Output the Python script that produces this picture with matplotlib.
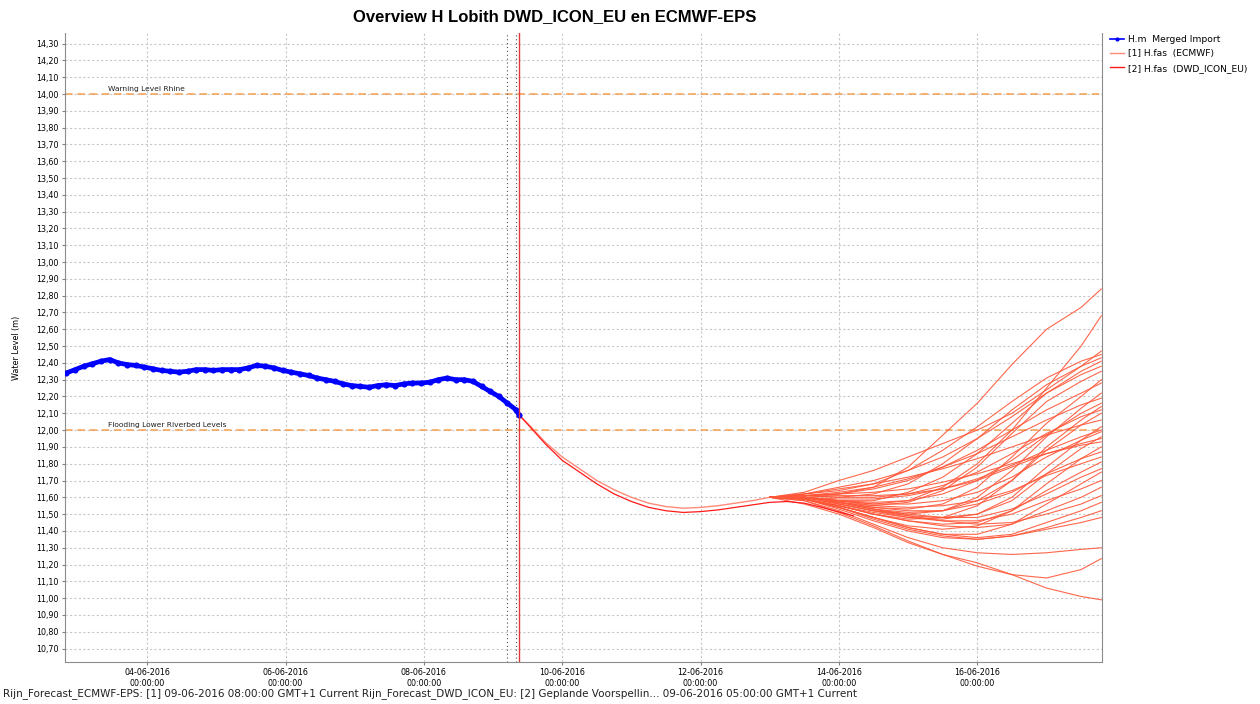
import datetime as dt
import matplotlib
matplotlib.use("Agg")
import matplotlib.pyplot as plt
import matplotlib.dates as mdates
from matplotlib.ticker import FuncFormatter, MultipleLocator

# --- observed water level (H.m Merged Import), 3-hourly from 02-06-2016 20:00
obs_start = dt.datetime(2016, 6, 2, 20)
obs_level = [12.34, 12.36, 12.38, 12.395, 12.41, 12.42, 12.40, 12.39, 12.385, 12.375,
             12.365, 12.355, 12.35, 12.345, 12.35, 12.36, 12.36, 12.355, 12.36, 12.36,
             12.36, 12.37, 12.385, 12.38, 12.37, 12.355, 12.345, 12.335, 12.325, 12.31,
             12.30, 12.29, 12.275, 12.265, 12.26, 12.255, 12.265, 12.27, 12.265, 12.275,
             12.28, 12.28, 12.285, 12.30, 12.31, 12.30, 12.30, 12.29, 12.26, 12.23,
             12.20, 12.16, 12.12]
obs_last = 12.09  # 09-06 09:00

# --- forecast trunk (6-hourly after 09-06 12:00)
trunk_times = [dt.datetime(2016, 6, 9, 9), dt.datetime(2016, 6, 9, 12)] + \
    [dt.datetime(2016, 6, 9, 18) + dt.timedelta(hours=6 * i) for i in range(14)]
ecmwf_trunk = [12.09, 12.04, 11.93, 11.84, 11.77, 11.70, 11.645, 11.60, 11.565, 11.545,
               11.535, 11.54, 11.55, 11.565, 11.58, 11.60]
dwd_trunk = [12.09, 12.035, 11.92, 11.82, 11.75, 11.68, 11.62, 11.575, 11.54, 11.52,
             11.51, 11.515, 11.525, 11.54, 11.555, 11.57]
dwd_tail_times = [dt.datetime(2016, 6, 13, 6), dt.datetime(2016, 6, 13, 12),
                  dt.datetime(2016, 6, 13, 18), dt.datetime(2016, 6, 14, 5)]
dwd_tail = [11.575, 11.565, 11.54, 11.49]

# --- ECMWF-EPS members, 12-hourly from 13-06 12:00, last at 17-06 19:00
member_times = [dt.datetime(2016, 6, 13, 12) + dt.timedelta(hours=12 * i) for i in range(9)] + \
    [dt.datetime(2016, 6, 17, 19)]
ecmwf_members = [
    [11.61, 11.62, 11.66, 11.78, 11.97, 12.16, 12.39, 12.60, 12.73, 12.84],
    [11.60, 11.58, 11.56, 11.58, 11.66, 11.80, 12.00, 12.25, 12.50, 12.68],
    [11.63, 11.70, 11.76, 11.84, 11.92, 12.00, 12.10, 12.24, 12.38, 12.47],
    [11.62, 11.64, 11.68, 11.76, 11.88, 12.02, 12.17, 12.31, 12.41, 12.45],
    [11.61, 11.60, 11.62, 11.68, 11.80, 11.95, 12.12, 12.27, 12.38, 12.43],
    [11.60, 11.58, 11.58, 11.63, 11.72, 11.86, 12.04, 12.22, 12.35, 12.41],
    [11.62, 11.66, 11.70, 11.76, 11.84, 11.95, 12.08, 12.22, 12.33, 12.38],
    [11.60, 11.57, 11.55, 11.57, 11.64, 11.78, 11.98, 12.17, 12.29, 12.35],
    [11.60, 11.57, 11.54, 11.53, 11.56, 11.66, 11.84, 12.04, 12.20, 12.30],
    [11.61, 11.62, 11.65, 11.70, 11.78, 11.88, 12.00, 12.12, 12.22, 12.28],
    [11.60, 11.56, 11.52, 11.50, 11.52, 11.60, 11.76, 11.96, 12.13, 12.22],
    [11.61, 11.63, 11.66, 11.71, 11.78, 11.86, 11.96, 12.06, 12.15, 12.19],
    [11.60, 11.58, 11.57, 11.58, 11.62, 11.70, 11.82, 11.97, 12.10, 12.16],
    [11.59, 11.55, 11.50, 11.47, 11.48, 11.55, 11.70, 11.90, 12.06, 12.14],
    [11.61, 11.60, 11.60, 11.62, 11.67, 11.75, 11.86, 11.98, 12.08, 12.12],
    [11.60, 11.57, 11.53, 11.51, 11.52, 11.58, 11.70, 11.88, 12.03, 12.10],
    [11.62, 11.65, 11.68, 11.72, 11.77, 11.83, 11.90, 11.97, 12.03, 12.06],
    [11.59, 11.55, 11.51, 11.48, 11.47, 11.50, 11.60, 11.78, 11.94, 12.02],
    [11.60, 11.59, 11.59, 11.61, 11.65, 11.71, 11.79, 11.88, 11.96, 12.00],
    [11.60, 11.58, 11.56, 11.56, 11.58, 11.63, 11.72, 11.84, 11.94, 11.99],
    [11.60, 11.56, 11.52, 11.49, 11.48, 11.50, 11.58, 11.74, 11.89, 11.96],
    [11.61, 11.61, 11.61, 11.62, 11.65, 11.70, 11.78, 11.86, 11.92, 11.95],
    [11.61, 11.62, 11.63, 11.65, 11.69, 11.74, 11.80, 11.86, 11.91, 11.93],
    [11.59, 11.54, 11.48, 11.43, 11.41, 11.43, 11.52, 11.68, 11.83, 11.90],
    [11.60, 11.57, 11.54, 11.52, 11.52, 11.56, 11.63, 11.74, 11.83, 11.87],
    [11.60, 11.58, 11.55, 11.54, 11.55, 11.58, 11.64, 11.73, 11.80, 11.84],
    [11.59, 11.55, 11.50, 11.46, 11.44, 11.45, 11.52, 11.64, 11.75, 11.81],
    [11.60, 11.57, 11.53, 11.50, 11.48, 11.48, 11.53, 11.62, 11.72, 11.77],
    [11.59, 11.54, 11.48, 11.42, 11.38, 11.38, 11.44, 11.56, 11.68, 11.75],
    [11.60, 11.56, 11.52, 11.48, 11.46, 11.46, 11.50, 11.58, 11.65, 11.70],
    [11.59, 11.55, 11.50, 11.46, 11.43, 11.42, 11.44, 11.52, 11.60, 11.66],
    [11.60, 11.57, 11.53, 11.49, 11.46, 11.44, 11.45, 11.50, 11.56, 11.61],
    [11.59, 11.54, 11.48, 11.42, 11.38, 11.36, 11.38, 11.45, 11.52, 11.57],
    [11.59, 11.54, 11.47, 11.41, 11.37, 11.35, 11.37, 11.42, 11.48, 11.52],
    [11.59, 11.53, 11.46, 11.40, 11.36, 11.35, 11.37, 11.41, 11.45, 11.48],
    [11.58, 11.52, 11.44, 11.36, 11.30, 11.27, 11.26, 11.27, 11.29, 11.30],
    [11.58, 11.51, 11.43, 11.34, 11.26, 11.19, 11.14, 11.12, 11.17, 11.235],
    [11.56, 11.50, 11.42, 11.33, 11.26, 11.21, 11.14, 11.06, 11.01, 10.99],
]

warning_level = 14.00
flooding_level = 12.00
t0_dwd = dt.datetime(2016, 6, 9, 5)
t0_ecmwf = dt.datetime(2016, 6, 9, 8)
t_now = dt.datetime(2016, 6, 9, 9)

obs_times = [obs_start + dt.timedelta(hours=3 * i) for i in range(len(obs_level))] + [t_now]
obs_values = obs_level + [obs_last]

ecmwf_col = "#ff5638"
dwd_col = "#ff1a1a"
grid_col = "#c8c8c8"

fig = plt.figure(figsize=(12.6, 7.04), dpi=100)
ax = fig.add_axes([65 / 1260, 1 - 662 / 704, (1102 - 65) / 1260, (662 - 33) / 704])

# forecasts
ax.plot(trunk_times, ecmwf_trunk, color="#ff8a78", lw=1.0, zorder=3)
for m in ecmwf_members:
    ax.plot([trunk_times[-1]] + member_times, [ecmwf_trunk[-1]] + m,
            color=ecmwf_col, lw=0.8, alpha=0.9, zorder=3)
ax.plot(trunk_times + dwd_tail_times, dwd_trunk + dwd_tail, color=dwd_col, lw=0.9, zorder=3)

# observations
ax.plot(obs_times, obs_values, color="#0000ff", lw=3.4, marker="o", ms=4.4,
        markeredgewidth=0, zorder=4)

# threshold lines
for lvl, txt in [(warning_level, "Warning Level Rhine"),
                 (flooding_level, "Flooding Lower Riverbed Levels")]:
    ax.axhline(lvl, color="#f5a050", lw=1.1, ls=(0, (5, 3)), zorder=2)
    ax.text(dt.datetime(2016, 6, 3, 10, 15), lvl + 0.012, txt, fontsize=5.4,
            color="#202020", va="bottom", ha="left")

# forecast time markers
ax.axvline(t0_dwd, color="#505050", lw=0.8, ls=(0, (1, 2.5)), zorder=2)
ax.axvline(t0_ecmwf, color="#505050", lw=0.8, ls=(0, (1, 2.5)), zorder=2)
ax.axvline(t_now, color="#e03838", lw=1.0, zorder=5)

ax.set_xlim(dt.datetime(2016, 6, 2, 19, 30), dt.datetime(2016, 6, 17, 19, 15))
ax.set_ylim(10.62, 14.363)
ax.yaxis.set_major_locator(MultipleLocator(0.1))
ax.yaxis.set_major_formatter(FuncFormatter(lambda v, p: f"{v:.2f}".replace(".", ",")))
ax.xaxis.set_major_locator(mdates.DayLocator(bymonthday=[4, 6, 8, 10, 12, 14, 16]))
ax.xaxis.set_major_formatter(mdates.DateFormatter("%d-%m-%Y\n%H:%M:%S"))
ax.tick_params(labelsize=5.8, length=2.5, width=0.8, color="#808080", pad=2)
for lab in ax.get_xticklabels():
    lab.set_horizontalalignment("center")
ax.grid(True, color=grid_col, lw=0.8, ls=(0, (2, 2)))
ax.set_axisbelow(True)
for side in ["left", "bottom", "right"]:
    ax.spines[side].set_color("#8c8c8c")
ax.spines["top"].set_visible(False)
ax.set_ylabel("Water Level (m)", fontsize=5.8, labelpad=11)

fig.text(555 / 1260, 1 - 17 / 704, "Overview H Lobith DWD_ICON_EU en ECMWF-EPS",
         ha="center", va="center", fontsize=12, fontweight="bold",
         family="Liberation Sans")

# legend
h1, = ax.plot([], [], color="#0000ff", lw=1.2, marker="o", ms=3, markeredgewidth=0)
h2, = ax.plot([], [], color="#ff8a78", lw=1.0)
h3, = ax.plot([], [], color=dwd_col, lw=1.0)
fig.legend([h1, h2, h3], ["H.m  Merged Import", "[1] H.fas  (ECMWF)", "[2] H.fas  (DWD_ICON_EU)"],
           loc="upper left", bbox_to_anchor=(1110 / 1260, 1 - 35 / 704), frameon=False,
           fontsize=6.6, handlelength=1.5, handletextpad=0.45, labelspacing=0.58,
           borderaxespad=0, borderpad=0)

fig.text(3 / 1260, 1 - 694 / 704,
         "Rijn_Forecast_ECMWF-EPS: [1] 09-06-2016 08:00:00 GMT+1 Current "
         "Rijn_Forecast_DWD_ICON_EU: [2] Geplande Voorspellin... 09-06-2016 05:00:00 GMT+1 Current",
         ha="left", va="center", fontsize=7.5, color="#202020")

fig.savefig("out.png", dpi=100)
